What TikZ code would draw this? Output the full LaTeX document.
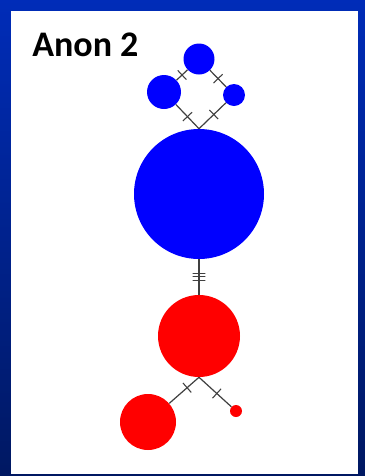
\documentclass[tikz,border=0pt]{standalone}
\usepackage{fontspec}
\setmainfont{Carlito}
\begin{document}
\begin{tikzpicture}[x=0.75pt,y=-0.75pt,
  blob/.style={circle,inner sep=0pt,draw=none},
  bluenode/.style={blob,fill=blue},
  rednode/.style={blob,fill=red},
  link/.style={draw=black!75,line width=0.9pt},
  tickmk/.style={draw=black!75,line width=0.8pt,rectangle,inner sep=0pt,minimum width=0pt,minimum height=9.5pt,sloped}]
\useasboundingbox (0,0) rectangle (365,476);
\shade[top color={rgb,255:red,0;green,44;blue,184},bottom color={rgb,255:red,0;green,24;blue,98}] (0,0) rectangle (365,476);
\fill[white] (11,11) rectangle (358,474);
\node[anchor=base west,font=\bfseries\fontsize{27}{30}\selectfont,inner sep=0pt] (title) at (32,56) {Anon 2};
% blue nodes
\node[bluenode,minimum size=31*0.75pt] (top) at (199,59) {};
\node[bluenode,minimum size=34*0.75pt] (left) at (164,92) {};
\node[bluenode,minimum size=22*0.75pt] (right) at (234,95) {};
\node[bluenode,minimum size=130*0.75pt] (big) at (199,194) {};
% red nodes
\node[rednode,minimum size=82*0.75pt] (red) at (199,336) {};
\node[rednode,minimum size=56*0.75pt] (redL) at (148,422) {};
\node[rednode,minimum size=12*0.75pt] (redS) at (236,411) {};
\coordinate (J) at (big.north);
\coordinate (K) at (red.south);
% connectors
\draw[link] (left) -- node[tickmk,pos=0.5]{} (top);
\draw[link] (top) -- node[tickmk,pos=0.5]{} (right);
\draw[link] (left) -- node[tickmk,pos=0.5]{} (J);
\draw[link] (right) -- node[tickmk,pos=0.45]{} (J);
\draw[link] (big) -- node[tickmk,pos=0.39]{} node[tickmk,pos=0.49]{} node[tickmk,pos=0.59]{} (red);
\draw[link] (K) -- node[tickmk,pos=0.4]{} (redL);
\draw[link] (K) -- node[tickmk,pos=0.55]{} (redS);
\end{tikzpicture}
\end{document}
